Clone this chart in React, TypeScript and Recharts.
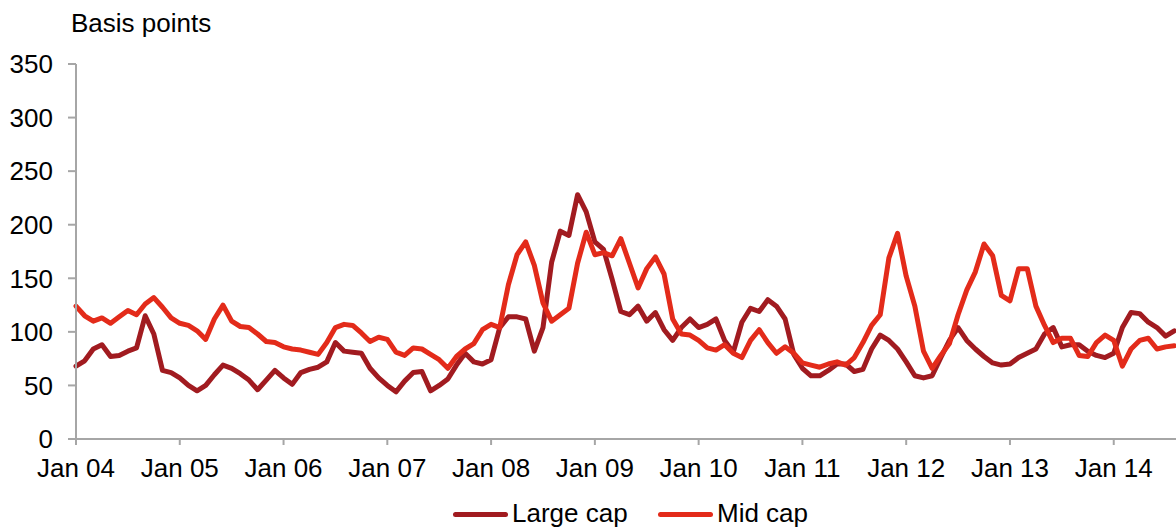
import React from "react";
import { LineChart, Line, XAxis, YAxis } from "recharts";

// Monthly observations from Jan 2004 (index 0) to Aug 2014 (index 127), basis points
const largeCap: number[] = [
  68, 73, 84, 88, 77, 78, 82, 85, 115, 98,
  64, 62, 57, 50, 45, 50, 60, 69, 66, 61,
  55, 46, 55, 64, 57, 51, 62, 65, 67, 72,
  90, 82, 81, 80, 66, 57, 50, 44, 54, 62,
  63, 45, 50, 56, 69, 80, 72, 70, 74, 104,
  114, 114, 112, 82, 104, 165, 194, 190, 228, 212,
  184, 177, 149, 119, 116, 124, 110, 118, 102, 92,
  104, 112, 104, 107, 112, 92, 81, 109, 122, 119,
  130, 124, 112, 79, 66, 59, 59, 64, 70, 70,
  63, 65, 84, 97, 92, 84, 72, 59, 57, 59,
  76, 92, 104, 92, 84, 77, 71, 69, 70, 76,
  80, 84, 98, 104, 86, 88, 88, 82, 78, 76,
  80, 104, 118, 117, 109, 104, 96, 101,
];

const midCap: number[] = [
  124, 115, 110, 113, 108, 114, 120, 116, 126, 132,
  123, 113, 108, 106, 101, 93, 112, 125, 110, 105,
  104, 98, 91, 90, 86, 84, 83, 81, 79, 90,
  104, 107, 106, 99, 91, 95, 93, 81, 78, 85,
  84, 79, 74, 66, 77, 84, 89, 102, 107, 104,
  144, 172, 184, 162, 127, 110, 116, 122, 164, 193,
  172, 174, 171, 187, 164, 141, 159, 170, 154, 112,
  98, 97, 92, 85, 83, 88, 80, 76, 92, 102,
  90, 80, 86, 80, 71, 69, 67, 70, 72, 69,
  76, 90, 106, 116, 169, 192, 152, 124, 82, 66,
  78, 89, 116, 139, 156, 182, 171, 134, 129, 159,
  159, 124, 106, 90, 94, 94, 78, 77, 90, 97,
  92, 68, 84, 92, 94, 84, 86, 87,
];

const tickLabels: string[] = [
  "Jan 04", "Jan 05", "Jan 06", "Jan 07", "Jan 08", "Jan 09",
  "Jan 10", "Jan 11", "Jan 12", "Jan 13", "Jan 14",
];
const xTicks: number[] = tickLabels.map((_, i) => i * 12);
const yTicks: number[] = [0, 50, 100, 150, 200, 250, 300, 350];

const data = largeCap.map((v, i) => ({ m: i, large: v, mid: midCap[i] }));

const FONT = "'Liberation Sans', Arial, Helvetica, sans-serif";
const DARK = "#A11B20";
const BRIGHT = "#E32B1A";
const AXIS = "#A6A6A6";

export default function App() {
  const tickStyle = { fill: "#000", fontSize: 26, fontFamily: FONT };
  return (
    <div
      style={{
        position: "absolute",
        left: 0,
        top: 0,
        width: 1176,
        height: 528,
        fontFamily: FONT,
        background: "#fff",
        overflow: "hidden",
      }}
    >
      <div
        style={{
          position: "absolute",
          left: 71,
          top: 10,
          fontSize: 26,
          lineHeight: "26px",
          color: "#000",
          whiteSpace: "nowrap",
        }}
      >
        Basis points
      </div>
      <LineChart
        width={1176}
        height={528}
        data={data}
        margin={{ top: 64, right: 0, left: 0, bottom: 49 }}
      >
        <XAxis
          type="number"
          dataKey="m"
          domain={[0, 127.2]}
          ticks={xTicks}
          interval={0}
          height={40}
          tickFormatter={(v: number) => tickLabels[Math.round(v / 12)]}
          tick={tickStyle}
          tickSize={6}
          tickMargin={14}
          axisLine={{ stroke: AXIS, strokeWidth: 2 }}
          tickLine={{ stroke: AXIS, strokeWidth: 2 }}
        />
        <YAxis
          type="number"
          domain={[0, 350]}
          ticks={yTicks}
          interval={0}
          width={76}
          tick={tickStyle}
          tickSize={8}
          tickMargin={15}
          axisLine={{ stroke: AXIS, strokeWidth: 2 }}
          tickLine={{ stroke: AXIS, strokeWidth: 2 }}
        />
        <Line
          type="linear"
          dataKey="large"
          name="Large cap"
          stroke={DARK}
          strokeWidth={5}
          strokeLinejoin="round"
          strokeLinecap="round"
          dot={false}
          activeDot={false}
          isAnimationActive={false}
        />
        <Line
          type="linear"
          dataKey="mid"
          name="Mid cap"
          stroke={BRIGHT}
          strokeWidth={5}
          strokeLinejoin="round"
          strokeLinecap="round"
          dot={false}
          activeDot={false}
          isAnimationActive={false}
        />
      </LineChart>
      {[
        { label: "Large cap", color: DARK, left: 453 },
        { label: "Mid cap", color: BRIGHT, left: 658 },
      ].map((item) => (
        <div
          key={item.label}
          style={{
            position: "absolute",
            left: item.left,
            top: 500,
            height: 26,
            display: "flex",
            alignItems: "center",
            whiteSpace: "nowrap",
          }}
        >
          <div
            style={{
              width: 55,
              height: 5,
              borderRadius: 3,
              background: item.color,
              marginRight: 4,
              marginTop: 2,
            }}
          />
          <span style={{ fontSize: 26, lineHeight: "26px", color: "#000" }}>{item.label}</span>
        </div>
      ))}
    </div>
  );
}
